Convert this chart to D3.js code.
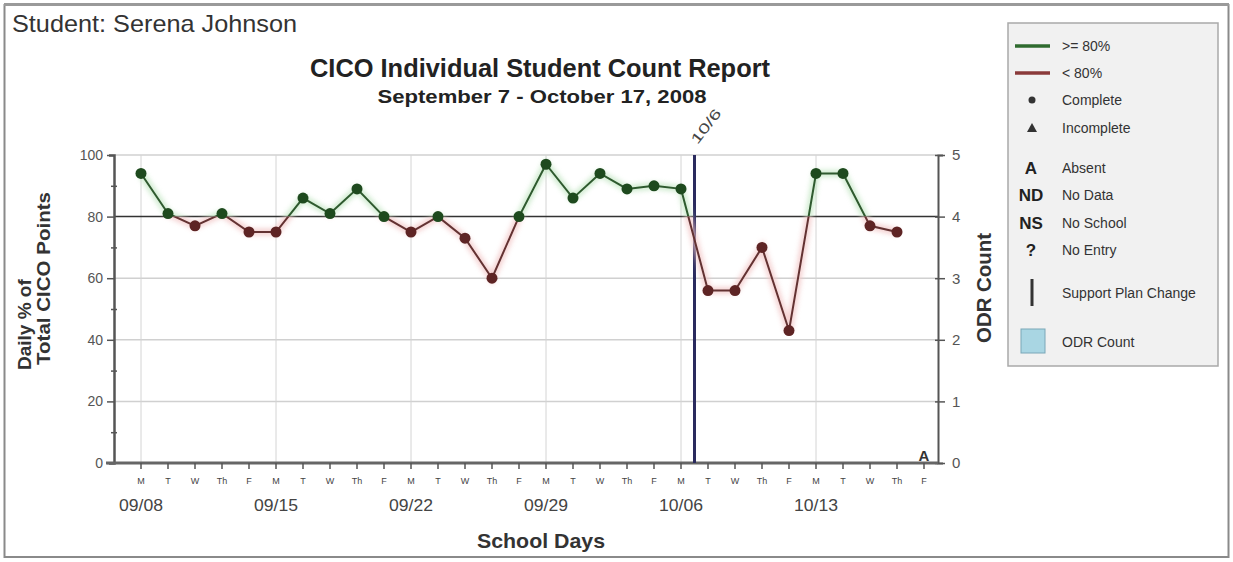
<!DOCTYPE html>
<html><head><meta charset="utf-8">
<script src="https://cdn.jsdelivr.net/npm/d3@7"></script>
<style>
body{margin:0;background:#fff;}
text{font-family:"Liberation Sans",Arial,sans-serif;}
</style></head>
<body><svg id="c" width="1233" height="562"></svg>
<script>
const dayLabels = ["M","T","W","Th","F","M","T","W","Th","F","M","T","W","Th","F","M","T","W","Th","F","M","T","W","Th","F","M","T","W","Th","F"];
const weekLabels = ["09/08","09/15","09/22","09/29","10/06","10/13"];
const pctValues = [94,81,77,81,75,75,86,81,89,80,75,80,73,60,80,97,86,94,89,90,89,56,56,70,43,94,94,77,75,null];
const absentDays = [29];
const planChangeAt = 20.5;
const planChangeLabel = "10/6";
const yTicksLeft = [0,20,40,60,80,100];
const yTicksRight = [0,1,2,3,4,5];
const threshold = 80;
const legendItems = [
  {k:"line", c:"#2f6b2f", t:">= 80%"},
  {k:"line", c:"#8a3a3a", t:"< 80%"},
  {k:"circle", t:"Complete"},
  {k:"tri", t:"Incomplete"},
  {k:"txt", s:"A", t:"Absent"},
  {k:"txt", s:"ND", t:"No Data"},
  {k:"txt", s:"NS", t:"No School"},
  {k:"txt", s:"?", t:"No Entry"},
  {k:"bar", t:"Support Plan Change"},
  {k:"box", t:"ODR Count"}
];

const svg = d3.select("#c");
svg.append("rect").attr("x",4.5).attr("y",5).attr("width",1224).attr("height",552)
  .attr("fill","#fff").attr("stroke","#8a8a8a").attr("stroke-width",2);
svg.append("line").attr("x1",4).attr("x2",1229).attr("y1",4.5).attr("y2",4.5).attr("stroke","#9a9a9a").attr("stroke-width",3);

svg.append("text").attr("x",12).attr("y",32).attr("font-size",24).attr("fill","#333")
  .attr("textLength",285).attr("lengthAdjust","spacingAndGlyphs").text("Student: Serena Johnson");
svg.append("text").attr("x",540).attr("y",77).attr("text-anchor","middle").attr("font-size",25).attr("font-weight","bold").attr("fill","#222")
  .attr("textLength",460).attr("lengthAdjust","spacingAndGlyphs").text("CICO Individual Student Count Report");
svg.append("text").attr("x",542).attr("y",103).attr("text-anchor","middle").attr("font-size",19).attr("font-weight","bold").attr("fill","#222")
  .attr("textLength",329).attr("lengthAdjust","spacingAndGlyphs").text("September 7 - October 17, 2008");

const L=114, R=938, T=155, B=463;
const x0 = d3.scaleLinear().domain([0,29]).range([141,924]);
const y = d3.scaleLinear().domain([0,100]).range([B,T]);
const y2 = d3.scaleLinear().domain([0,5]).range([B,T]);

const g = svg.append("g");
g.selectAll(".hg").data(yTicksLeft.filter(v=>v>0 && v!==threshold)).enter().append("line")
  .attr("x1",L).attr("x2",R).attr("y1",d=>y(d)).attr("y2",d=>y(d)).attr("stroke","#d0d0d0").attr("stroke-width",1.5);
const mondays = dayLabels.map((d,i)=>i).filter(i=>dayLabels[i]==="M");
g.selectAll(".vg").data(mondays).enter().append("line")
  .attr("x1",d=>x0(d)).attr("x2",d=>x0(d)).attr("y1",T).attr("y2",B).attr("stroke","#d4d4d4").attr("stroke-width",1);
g.append("line").attr("x1",L).attr("x2",R).attr("y1",y(threshold)).attr("y2",y(threshold)).attr("stroke","#333").attr("stroke-width",1.5);

const axL = d3.axisLeft(y).tickValues(d3.range(0,101,10)).tickSize(5).tickFormat(d=>d%20===0?d:"");
const gl = svg.append("g").attr("transform",`translate(${L},0)`).call(axL);
gl.select(".domain").attr("stroke","#555").attr("stroke-width",2.5);
gl.selectAll(".tick line").attr("stroke","#555").attr("stroke-width",1.5).attr("x1",d=>d%20===0?-7:-3).attr("x2",d=>d%20===0?0:3);
gl.selectAll(".tick text").attr("font-size",14).attr("fill","#555").attr("x",-11);
const axR = d3.axisRight(y2).tickValues(yTicksRight).tickSize(5).tickFormat(d3.format("d"));
const gr = svg.append("g").attr("transform",`translate(${R},0)`).call(axR);
gr.select(".domain").attr("stroke","#555").attr("stroke-width",2);
gr.selectAll(".tick line").attr("stroke","#555").attr("stroke-width",1.5).attr("x1",-3).attr("x2",7);
gr.selectAll(".tick text").attr("font-size",15).attr("fill","#555").attr("x",14);
svg.append("line").attr("x1",L-8).attr("x2",R).attr("y1",B).attr("y2",B).attr("stroke","#666").attr("stroke-width",3);
const bx = svg.append("g");
bx.selectAll(".bt").data(dayLabels).enter().append("line")
  .attr("x1",(d,i)=>x0(i)).attr("x2",(d,i)=>x0(i)).attr("y1",B).attr("y2",B+6).attr("stroke","#555").attr("stroke-width",1.5);
bx.selectAll(".bl").data(dayLabels).enter().append("text")
  .attr("x",(d,i)=>x0(i)).attr("y",B+21).attr("text-anchor","middle").attr("font-size",9).attr("fill","#444").text(d=>d);
bx.selectAll(".wl").data(weekLabels).enter().append("text")
  .attr("x",(d,i)=>x0(mondays[i])).attr("y",B+48).attr("text-anchor","middle").attr("font-size",16).attr("fill","#444")
  .attr("textLength",44).attr("lengthAdjust","spacingAndGlyphs").text(d=>d);
svg.append("text").attr("x",541).attr("y",548).attr("text-anchor","middle").attr("font-size",21).attr("font-weight","bold").attr("fill","#333")
  .attr("textLength",128).attr("lengthAdjust","spacingAndGlyphs").text("School Days");

svg.append("text").attr("transform","translate(31,370) rotate(-90)").attr("text-anchor","start").attr("font-size",19).attr("font-weight","bold").attr("fill","#333")
  .text("Daily % of");
svg.append("text").attr("transform","translate(50,365) rotate(-90)").attr("text-anchor","start").attr("font-size",19).attr("font-weight","bold").attr("fill","#333")
  .attr("textLength",173).attr("lengthAdjust","spacingAndGlyphs").text("Total CICO Points");
svg.append("text").attr("transform","translate(991,288) rotate(-90)").attr("text-anchor","middle").attr("font-size",20).attr("font-weight","bold").attr("fill","#333")
  .attr("textLength",110).attr("lengthAdjust","spacingAndGlyphs").text("ODR Count");

svg.append("line").attr("x1",x0(planChangeAt)).attr("x2",x0(planChangeAt)).attr("y1",T).attr("y2",B)
  .attr("stroke","#2a2a5e").attr("stroke-width",3);
svg.append("text").attr("transform",`translate(${x0(planChangeAt)+3},${T-10}) rotate(-52)`).attr("font-size",14).attr("fill","#444")
  .attr("textLength",40).attr("lengthAdjust","spacingAndGlyphs").text(planChangeLabel);

const pts = pctValues.map((v,i)=>({i,v})).filter(d=>d.v!==null);
const lineGen = d3.line().x(d=>x0(d.i)).y(d=>y(d.v));
const defs = svg.append("defs");
const f = defs.append("filter").attr("id","glow").attr("x","-20%").attr("y","-20%").attr("width","140%").attr("height","140%");
f.append("feGaussianBlur").attr("stdDeviation",2.5);
defs.append("clipPath").attr("id","above").append("rect").attr("x",0).attr("y",0).attr("width",1233).attr("height",y(threshold));
defs.append("clipPath").attr("id","below").append("rect").attr("x",0).attr("y",y(threshold)).attr("width",1233).attr("height",562);
[["above","#c3e6c3","#2f5a2f"],["below","#f2c6c6","#633232"]].forEach(([cp,halo,core])=>{
  const gg = svg.append("g").attr("clip-path",`url(#${cp})`);
  gg.append("path").datum(pts).attr("d",lineGen).attr("fill","none").attr("stroke",halo).attr("stroke-width",7).attr("filter","url(#glow)").attr("opacity",0.8);
  gg.append("path").datum(pts).attr("d",lineGen).attr("fill","none").attr("stroke",core).attr("stroke-width",2);
});
svg.selectAll(".pt").data(pts).enter().append("circle")
  .attr("cx",d=>x0(d.i)).attr("cy",d=>y(d.v)).attr("r",5.5)
  .attr("fill",d=>d.v>=threshold?"#1e4a1e":"#5e2424");
svg.selectAll(".ab").data(absentDays).enter().append("text")
  .attr("x",d=>x0(d)).attr("y",B-2).attr("text-anchor","middle").attr("font-size",15).attr("font-weight","bold").attr("fill","#333").text("A");

const lg = svg.append("g");
lg.append("rect").attr("x",1008).attr("y",23).attr("width",210).attr("height",343).attr("fill","#f1f1f1").attr("stroke","#a9a9a9").attr("stroke-width",1.5);
const ly = [46,73,100,128,168,195,223,250,293,342];
legendItems.forEach((it,k)=>{
  const yy = ly[k];
  if(it.k==="line"){
    lg.append("line").attr("x1",1015).attr("x2",1050).attr("y1",yy).attr("y2",yy).attr("stroke",it.c).attr("stroke-width",3.5);
  } else if(it.k==="circle"){
    lg.append("circle").attr("cx",1032).attr("cy",yy).attr("r",3.5).attr("fill","#333");
  } else if(it.k==="tri"){
    lg.append("path").attr("d",`M1032,${yy-5}L1037,${yy+4}L1027,${yy+4}Z`).attr("fill","#333");
  } else if(it.k==="txt"){
    lg.append("text").attr("x",1031).attr("y",yy+6).attr("text-anchor","middle").attr("font-size",17).attr("font-weight","bold").attr("fill","#222").text(it.s);
  } else if(it.k==="bar"){
    lg.append("line").attr("x1",1032).attr("x2",1032).attr("y1",yy-14).attr("y2",yy+13).attr("stroke","#333").attr("stroke-width",3);
  } else if(it.k==="box"){
    lg.append("rect").attr("x",1021).attr("y",yy-13).attr("width",24).attr("height",24).attr("fill","#a9d6e3").attr("stroke","#7aa7b8");
  }
  lg.append("text").attr("x",1062).attr("y",yy+5).attr("font-size",14).attr("fill","#333").text(it.t);
});
</script></body></html>
